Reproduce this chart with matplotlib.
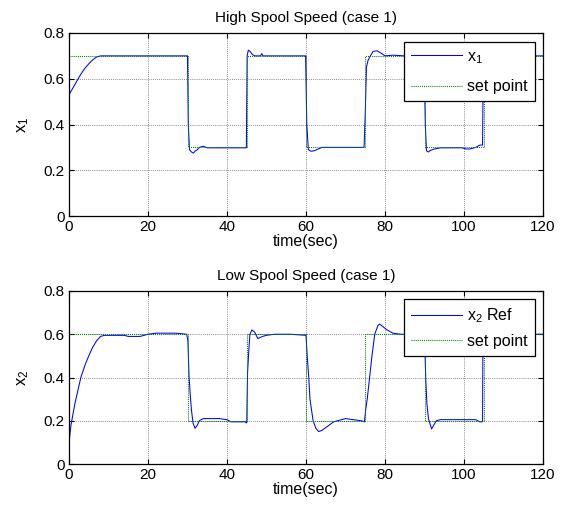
import matplotlib
matplotlib.use("Agg")
import matplotlib.pyplot as plt

plt.rcParams['font.family'] = ['Liberation Sans', 'DejaVu Sans']
plt.rcParams['mathtext.fontset'] = 'custom'
plt.rcParams['mathtext.rm'] = 'Liberation Sans'
plt.rcParams['mathtext.it'] = 'Liberation Sans'

# ---- data ----
t_sp = [0, 30, 30, 45, 45, 60, 60, 75, 75, 90, 90, 105, 105, 120]
sp1 = [0.7, 0.7, 0.3, 0.3, 0.7, 0.7, 0.3, 0.3, 0.7, 0.7, 0.3, 0.3, 0.7, 0.7]
sp2 = [0.6, 0.6, 0.2, 0.2, 0.6, 0.6, 0.2, 0.2, 0.6, 0.6, 0.2, 0.2, 0.6, 0.6]

t1 = [0, 0, 1, 2, 3, 4, 5, 6, 7, 8,
      30, 30.2, 30.5, 31, 31.5, 32, 32.5, 33, 34, 35,
      44.9, 45.1, 45.4, 45.8, 46.5, 47, 48.5, 48.8, 49.1, 50,
      59.9, 60.2, 60.6, 61.3, 62, 63, 64, 74.7, 75.0, 75.3,
      75.7, 76.3, 77, 78, 79, 80, 82, 85, 89.9, 90.2,
      90.5, 91, 91.5, 92.5, 94, 99.5, 100.5, 101.5, 103, 104,
      104.7, 104.9, 120]
x1 = [0, 0.53, 0.56, 0.59, 0.62, 0.645, 0.665, 0.683, 0.695, 0.70,
      0.70, 0.40, 0.29, 0.28, 0.275, 0.285, 0.29, 0.30, 0.305, 0.298,
      0.298, 0.70, 0.725, 0.72, 0.705, 0.70, 0.70, 0.71, 0.70, 0.70,
      0.70, 0.40, 0.29, 0.283, 0.285, 0.292, 0.30, 0.30, 0.45, 0.65,
      0.68, 0.70, 0.72, 0.722, 0.712, 0.70, 0.703, 0.70, 0.70, 0.40,
      0.285, 0.28, 0.287, 0.293, 0.298, 0.298, 0.293, 0.293, 0.30, 0.31,
      0.31, 0.70, 0.70]

t2 = [0, 0, 0.2, 0.5, 1, 1.5, 2, 3, 4, 5,
      6, 7, 8, 9, 10, 14, 15, 18, 20, 22,
      27, 29.8, 30.1, 30.4, 30.7, 31, 31.4, 31.9, 32.5, 33,
      34, 38, 40, 41, 44.5, 45, 45.2, 45.5, 45.8, 46.3,
      47, 47.8, 49, 50, 52, 56, 60, 60.3, 60.7, 61,
      61.8, 62.5, 63.2, 64, 65.5, 67, 70, 72, 74, 74.8,
      75.1, 75.5, 76.1, 76.7, 77.4, 78.2, 78.6, 79.5, 80.5, 82,
      84, 86, 90.0, 90.3, 90.6, 91, 91.8, 92.5, 93, 94,
      100, 103, 104, 104.5, 104.7, 104.8, 120]
x2 = [0, 0.10, 0.13, 0.18, 0.23, 0.28, 0.32, 0.40, 0.455, 0.50,
      0.54, 0.57, 0.59, 0.595, 0.595, 0.595, 0.59, 0.59, 0.60, 0.605,
      0.605, 0.60, 0.57, 0.40, 0.32, 0.25, 0.19, 0.165, 0.18, 0.20,
      0.21, 0.21, 0.205, 0.195, 0.195, 0.19, 0.42, 0.52, 0.60, 0.62,
      0.61, 0.58, 0.59, 0.595, 0.60, 0.60, 0.595, 0.50, 0.40, 0.30,
      0.20, 0.165, 0.15, 0.155, 0.175, 0.195, 0.21, 0.205, 0.20, 0.195,
      0.25, 0.30, 0.40, 0.50, 0.60, 0.64, 0.647, 0.635, 0.62, 0.605,
      0.60, 0.60, 0.60, 0.40, 0.28, 0.21, 0.162, 0.185, 0.20, 0.205,
      0.205, 0.205, 0.195, 0.195, 0.20, 0.60, 0.60]

xticks = [0, 20, 40, 60, 80, 100, 120]
yticks = [0, 0.2, 0.4, 0.6, 0.8]
ytick_labels = ['0', '0.2', '0.4', '0.6', '0.8']

fig = plt.figure(figsize=(5.68, 5.12), dpi=100)
ax1 = fig.add_axes([69/568, 1-216/512, 474/568, 183/512])
ax2 = fig.add_axes([69/568, 1-464/512, 474/568, 173/512])

panels = [
    (ax1, t1, x1, sp1, 'High Spool Speed (case 1)', r'x$_1$', r'x$_1$', 0.952, 0.85),
    (ax2, t2, x2, sp2, 'Low Spool Speed (case 1)', r'x$_2$', r'x$_2$ Ref', 0.954, 0.55),
]
for ax, t, x, sp, title, ylab, leglab, ly, lsp in panels:
    ax.plot(t, x, color=(0, 0, 1), lw=0.75, label=leglab)
    ax.plot(t_sp, sp, color=(0, 0.5, 0), lw=0.75, ls=(0, (1, 1)), label='set point')
    ax.set_xlim(0, 120)
    ax.set_ylim(0, 0.8)
    ax.set_xticks(xticks)
    ax.set_yticks(yticks)
    ax.set_yticklabels(ytick_labels)
    ax.tick_params(direction='in', top=True, right=True, labelsize=11, length=3.5,
                   width=0.8, pad=3)
    ax.grid(True, color='0.4', ls=(0, (1, 1.5)), lw=0.6)
    for s in ax.spines.values():
        s.set_linewidth(0.9)
    ax.set_title(title, fontsize=11, pad=8)
    ax.set_xlabel('time(sec)', fontsize=11.5, labelpad=0)
    ax.set_ylabel(ylab, fontsize=12, labelpad=9)
    leg = ax.legend(loc='upper left', bbox_to_anchor=(0.707, ly), fontsize=11.5,
                    fancybox=False, edgecolor='k', framealpha=1,
                    handlelength=3.2, borderpad=0.45, labelspacing=lsp,
                    handletextpad=0.3, borderaxespad=0)
    leg.get_frame().set_linewidth(0.9)

fig.savefig('out.png', dpi=100)
